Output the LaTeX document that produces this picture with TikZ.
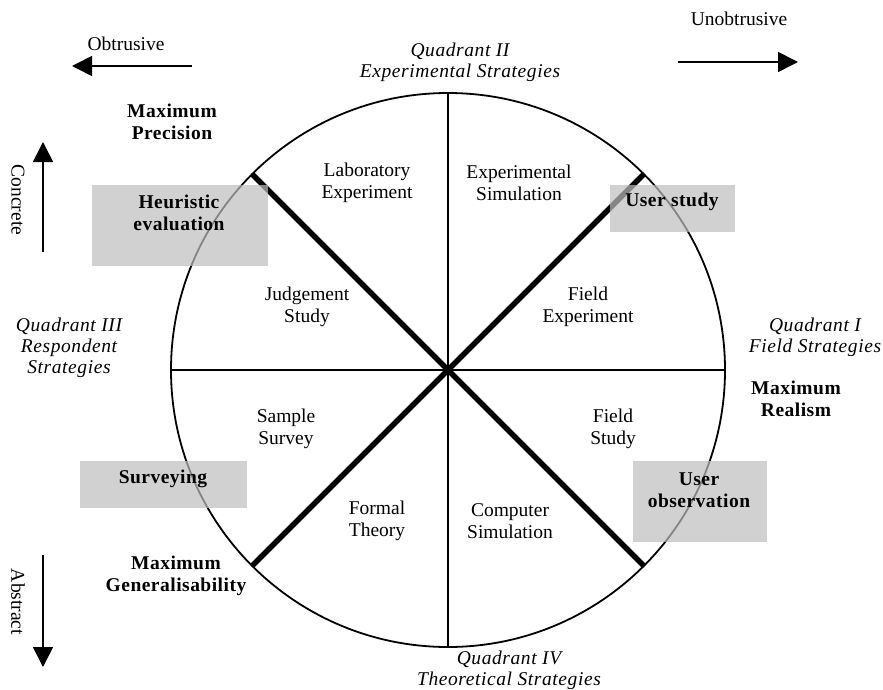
\documentclass[tikz,border=0pt]{standalone}
\usepackage{fontspec}
\setmainfont{Liberation Serif}[ItalicFeatures={LetterSpace=3},BoldFeatures={LetterSpace=2.5}]
\usetikzlibrary{arrows.meta}
\begin{document}
\begin{tikzpicture}[x=1pt,y=-1pt,
  lbl/.style={align=center,inner sep=0pt,font=\fontsize{19.5}{22}\selectfont},
  qlbl/.style={lbl,font=\fontsize{19.5}{21}\selectfont\itshape},
  blbl/.style={lbl,font=\fontsize{19.5}{22}\selectfont\bfseries},
  hbox/.style={fill={rgb,255:red,190;green,190;blue,190},fill opacity=0.7,draw=none},
  divider/.style={line width=1.8pt},
  thick divider/.style={line width=5.5pt},
  bigarrow/.style={line width=1.6pt,-{Triangle[length=20pt,width=20pt]}}]
\useasboundingbox (0,0) rectangle (883,690);
% circle
\node[draw,circle,line width=1.8pt,minimum size=554pt,inner sep=0pt,outer sep=0pt] (c) at (448,370) {};
\draw[divider] (c.90) -- (c.270);
\draw[divider] (c.180) -- (c.0);
\draw[thick divider] (c.135) -- (c.-45);
\draw[thick divider] (c.45) -- (c.-135);
% arrows
\coordinate (lA) at (192,66); \coordinate (lB) at (72,66);
\coordinate (rA) at (678,62); \coordinate (rB) at (798,62);
\coordinate (uA) at (43,252); \coordinate (uB) at (43,142);
\coordinate (dA) at (43,555); \coordinate (dB) at (43,667);
\draw[bigarrow] (lA) -- (lB);
\draw[bigarrow] (rA) -- (rB);
\draw[bigarrow] (uA) -- (uB);
\draw[bigarrow] (dA) -- (dB);
% gray boxes
\path[hbox] (92,185) rectangle (268,266);
\path[hbox] (610,185) rectangle (735,232);
\path[hbox] (80,461) rectangle (247,508);
\path[hbox] (633,461) rectangle (767,542);
% outer labels
\node[lbl] (obtr) at (126,44) {Obtrusive};
\node[lbl] (unobtr) at (739,19) {Unobtrusive};
\node[lbl,rotate=-90] (concrete) at (18,200) {Concrete};
\node[lbl,rotate=-90] (abstract) at (18,602) {Abstract};
\node[qlbl] (q2) at (460,62) {Quadrant II\\Experimental Strategies};
\node[qlbl] (q3) at (69,348) {Quadrant III\\Respondent\\Strategies};
\node[qlbl] (q1) at (815,337) {Quadrant I\\Field Strategies};
\node[qlbl] (q4) at (509,670) {Quadrant IV\\Theoretical Strategies};
\node[blbl] (mprec) at (172,122) {Maximum\\Precision};
\node[blbl] (mreal) at (796,399) {Maximum\\Realism};
\node[blbl] (mgen) at (176,576) {Maximum\\Generalisability};
\node[blbl] (heur) at (179,213) {Heuristic\\evaluation};
\node[blbl] (ustudy) at (672,202) {User study};
\node[blbl] (survey) at (163,479) {Surveying};
\node[blbl] (uobs) at (699,490) {User\\observation};
% inner labels
\node[lbl] (lab) at (367,183) {Laboratory\\Experiment};
\node[lbl] (expsim) at (519,183) {Experimental\\Simulation};
\node[lbl] (judg) at (307,307) {Judgement\\Study};
\node[lbl] (fexp) at (588,307) {Field\\Experiment};
\node[lbl] (samp) at (286,429) {Sample\\Survey};
\node[lbl] (fstudy) at (613,429) {Field\\Study};
\node[lbl] (formal) at (377,521) {Formal\\Theory};
\node[lbl] (compsim) at (510,521) {Computer\\Simulation};
\end{tikzpicture}
\end{document}
